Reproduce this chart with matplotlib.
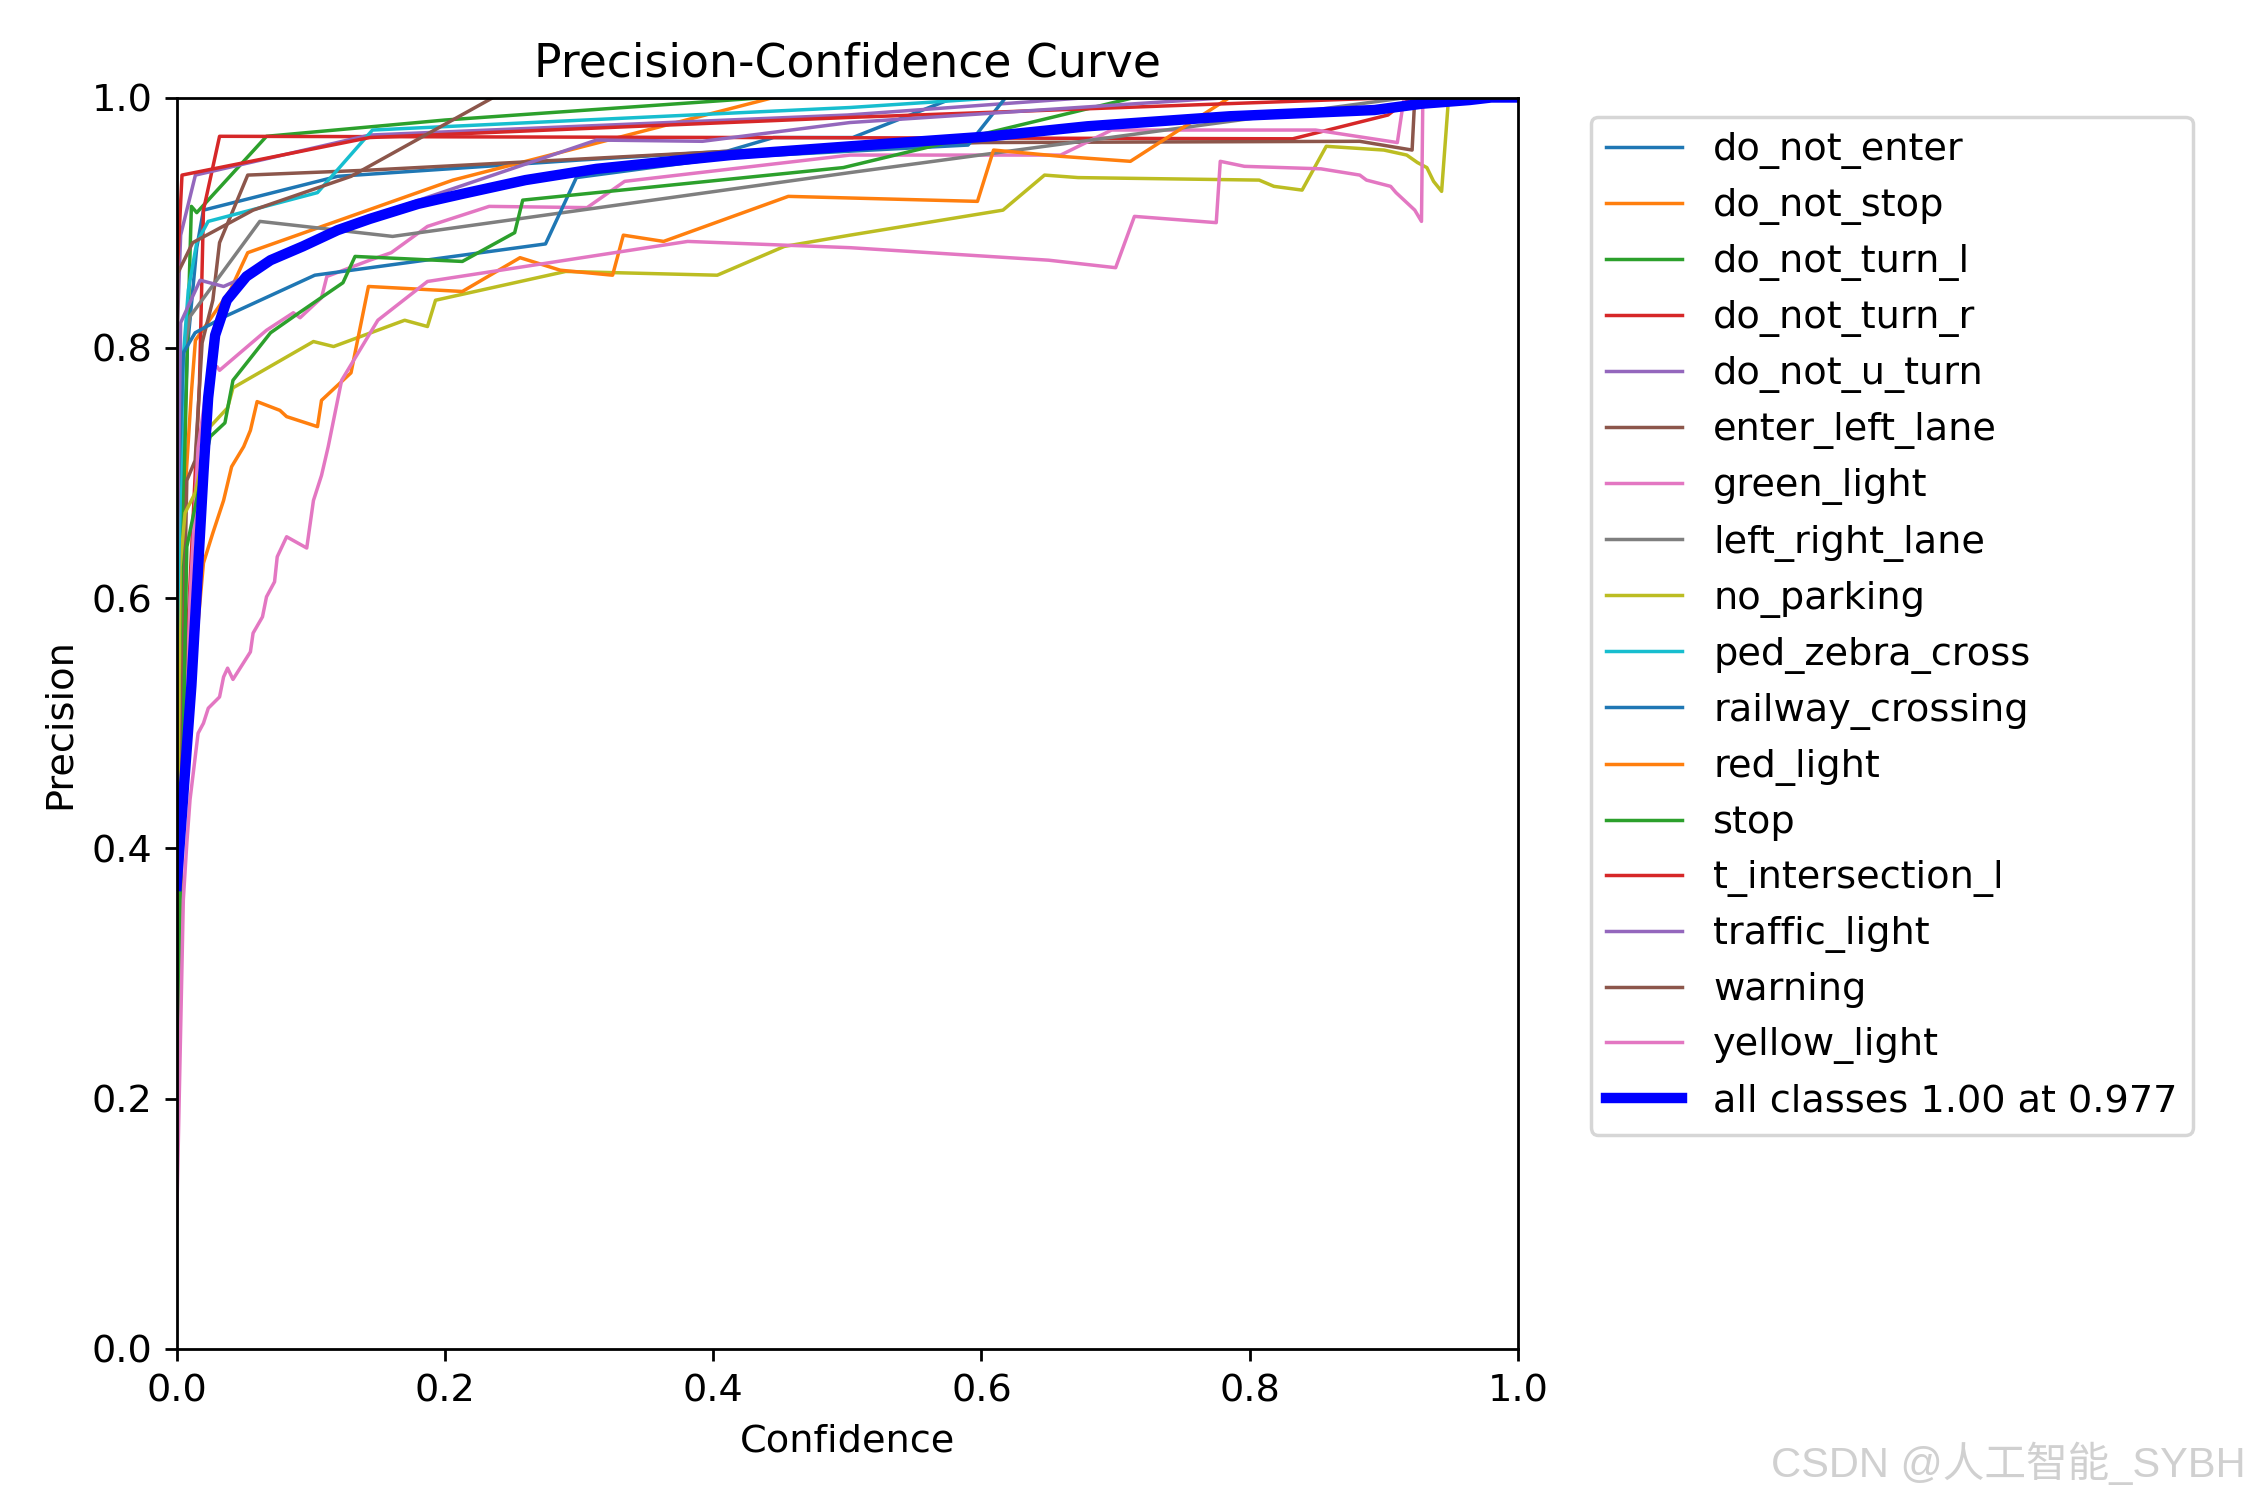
import matplotlib
matplotlib.use("Agg")
import matplotlib.pyplot as plt

# Confidence (x) / precision (y) breakpoints per class
do_not_enter_x = [0, 0.008, 0.015, 0.02, 0.12, 0.3, 0.41, 0.445, 0.504, 0.58, 1.0]
do_not_enter_y = [0.55, 0.80, 0.88, 0.91, 0.937, 0.95, 0.957, 0.968, 0.968, 1.0, 1.0]

do_not_stop_x = [0, 0.006, 0.011, 0.014, 0.04, 0.053, 0.206, 0.445, 1.0]
do_not_stop_y = [0.3, 0.68, 0.764, 0.806, 0.846, 0.876, 0.934, 1.0, 1.0]

do_not_turn_l_x = [0, 0.008, 0.011, 0.015, 0.067, 0.2, 0.44, 1.0]
do_not_turn_l_y = [0.45, 0.80, 0.913, 0.908, 0.969, 0.982, 1.0, 1.0]

do_not_turn_r_x = [0, 0.005, 0.017, 0.02, 0.032, 0.832, 0.903, 0.92, 1.0]
do_not_turn_r_y = [0.3, 0.5, 0.77, 0.91, 0.969, 0.967, 0.986, 1.0, 1.0]

do_not_u_turn_x = [0, 0.003, 0.014, 0.144, 0.5, 0.68, 1.0]
do_not_u_turn_y = [0.8, 0.89, 0.938, 0.97, 0.986, 1.0, 1.0]

enter_left_lane_x = [0, 0.0076, 0.0138, 0.019, 0.027, 0.032, 0.053, 0.144, 0.41, 0.6, 0.882, 0.921, 0.923, 1.0]
enter_left_lane_y = [0.3, 0.694, 0.71, 0.804, 0.838, 0.884, 0.938, 0.942, 0.957, 0.964, 0.965, 0.958, 1.0, 1.0]

green_light_x = [0, 0.01, 0.016, 0.024, 0.03, 0.032, 0.067, 0.087, 0.092, 0.108, 0.112, 0.144,
                 0.16, 0.187, 0.233, 0.306, 0.334, 0.502, 0.659, 0.697, 0.849, 0.91, 0.915, 1.0]
green_light_y = [0.25, 0.6, 0.72, 0.78, 0.785, 0.782, 0.814, 0.828, 0.824, 0.840, 0.857, 0.870,
                 0.876, 0.897, 0.913, 0.912, 0.933, 0.954, 0.954, 0.974, 0.974, 0.964, 1.0, 1.0]

left_right_lane_x = [0, 0.003, 0.01, 0.062, 0.161, 0.502, 0.917, 1.0]
left_right_lane_y = [0.5, 0.78, 0.825, 0.901, 0.889, 0.94, 1.0, 1.0]

no_parking_x = [0, 0.0026, 0.0063, 0.0138, 0.025, 0.038, 0.042, 0.102, 0.117, 0.170, 0.187, 0.193,
                0.290, 0.403, 0.453, 0.502, 0.616, 0.647, 0.672, 0.807, 0.818, 0.839, 0.857, 0.900,
                0.917, 0.925, 0.932, 0.937, 0.943, 0.948, 1.0]
no_parking_y = [0.3, 0.625, 0.668, 0.684, 0.737, 0.752, 0.768, 0.805, 0.801, 0.822, 0.817, 0.838,
                0.861, 0.858, 0.881, 0.890, 0.910, 0.938, 0.936, 0.934, 0.929, 0.926, 0.961, 0.958,
                0.954, 0.948, 0.944, 0.933, 0.925, 0.997, 1.0]

ped_zebra_cross_x = [0, 0.005, 0.0087, 0.015, 0.0235, 0.105, 0.146, 0.502, 0.615, 1.0]
ped_zebra_cross_y = [0.55, 0.793, 0.846, 0.884, 0.901, 0.924, 0.974, 0.992, 1.0, 1.0]

railway_crossing_x = [0, 0.005, 0.0138, 0.036, 0.103, 0.275, 0.298, 0.41, 0.59, 0.618, 1.0]
railway_crossing_y = [0.65, 0.796, 0.812, 0.825, 0.858, 0.883, 0.936, 0.952, 0.962, 1.0, 1.0]

red_light_x = [0, 0.005, 0.02, 0.027, 0.035, 0.041, 0.050, 0.055, 0.060, 0.077, 0.082, 0.105, 0.108,
               0.130, 0.143, 0.213, 0.256, 0.286, 0.325, 0.333, 0.363, 0.456, 0.597, 0.609, 0.659,
               0.711, 0.785, 1.0]
red_light_y = [0.25, 0.45, 0.628, 0.652, 0.678, 0.705, 0.721, 0.734, 0.757, 0.750, 0.745, 0.737, 0.758,
               0.780, 0.849, 0.845, 0.872, 0.862, 0.858, 0.890, 0.885, 0.921, 0.917, 0.958, 0.953,
               0.949, 1.0, 1.0]

stop_x = [0, 0.0076, 0.0138, 0.025, 0.036, 0.042, 0.07, 0.09, 0.124, 0.133, 0.213, 0.252, 0.258,
          0.497, 0.714, 1.0]
stop_y = [0.2, 0.641, 0.673, 0.729, 0.74, 0.774, 0.812, 0.827, 0.852, 0.873, 0.869, 0.892, 0.918,
          0.944, 1.0, 1.0]

t_intersection_l_x = [0, 0.004, 0.144, 0.5, 0.91, 1.0]
t_intersection_l_y = [0.85, 0.938, 0.968, 0.984, 1.0, 1.0]

traffic_light_x = [0, 0.003, 0.0175, 0.035, 0.052, 0.094, 0.123, 0.313, 0.392, 0.502, 0.785, 1.0]
traffic_light_y = [0.6, 0.82, 0.854, 0.849, 0.857, 0.881, 0.897, 0.966, 0.965, 0.98, 1.0, 1.0]

warning_x = [0, 0.001, 0.012, 0.057, 0.13, 0.236, 1.0]
warning_y = [0.75, 0.86, 0.884, 0.91, 0.937, 1.0, 1.0]

yellow_light_x = [0, 0.005, 0.0076, 0.010, 0.016, 0.020, 0.0236, 0.032, 0.035, 0.038, 0.042, 0.055,
                  0.057, 0.064, 0.067, 0.073, 0.075, 0.082, 0.097, 0.102, 0.108, 0.113, 0.123, 0.150,
                  0.187, 0.381, 0.502, 0.650, 0.700, 0.714, 0.775, 0.778, 0.796, 0.853, 0.882, 0.887,
                  0.905, 0.909, 0.923, 0.928, 0.929, 1.0]
yellow_light_y = [0.1, 0.359, 0.404, 0.439, 0.492, 0.500, 0.512, 0.521, 0.537, 0.544, 0.535, 0.557,
                  0.572, 0.585, 0.601, 0.613, 0.633, 0.649, 0.640, 0.678, 0.698, 0.721, 0.774, 0.822,
                  0.853, 0.885, 0.880, 0.870, 0.864, 0.905, 0.900, 0.949, 0.945, 0.943, 0.938, 0.934,
                  0.929, 0.924, 0.910, 0.901, 1.0, 1.0]

all_x = [0, 0.011, 0.02, 0.0235, 0.0287, 0.0374, 0.052, 0.07, 0.094, 0.12, 0.144, 0.18, 0.213,
         0.26, 0.313, 0.413, 0.502, 0.607, 0.679, 0.785, 0.893, 0.928, 0.964, 0.98, 1.0]
all_y = [0.37, 0.53, 0.70, 0.76, 0.81, 0.838, 0.857, 0.870, 0.881, 0.894, 0.903, 0.915, 0.923,
         0.934, 0.943, 0.954, 0.961, 0.969, 0.977, 0.985, 0.990, 0.995, 0.998, 1.0, 1.0]
best_p, best_conf = 1.00, 0.977

names = ["do_not_enter", "do_not_stop", "do_not_turn_l", "do_not_turn_r", "do_not_u_turn",
         "enter_left_lane", "green_light", "left_right_lane", "no_parking", "ped_zebra_cross",
         "railway_crossing", "red_light", "stop", "t_intersection_l", "traffic_light", "warning",
         "yellow_light"]
curves = [
    (do_not_enter_x, do_not_enter_y), (do_not_stop_x, do_not_stop_y),
    (do_not_turn_l_x, do_not_turn_l_y), (do_not_turn_r_x, do_not_turn_r_y),
    (do_not_u_turn_x, do_not_u_turn_y), (enter_left_lane_x, enter_left_lane_y),
    (green_light_x, green_light_y), (left_right_lane_x, left_right_lane_y),
    (no_parking_x, no_parking_y), (ped_zebra_cross_x, ped_zebra_cross_y),
    (railway_crossing_x, railway_crossing_y), (red_light_x, red_light_y),
    (stop_x, stop_y), (t_intersection_l_x, t_intersection_l_y),
    (traffic_light_x, traffic_light_y), (warning_x, warning_y),
    (yellow_light_x, yellow_light_y),
]

plt.rcParams["font.size"] = 11

fig, ax = plt.subplots(1, 1, figsize=(9, 6), dpi=250)
fig.subplots_adjust(left=0.0785, right=0.6747, top=0.935, bottom=0.1007)

for name, (xs, ys) in zip(names, curves):
    ax.plot(xs, ys, linewidth=1, label=name)
ax.plot(all_x, all_y, linewidth=3, color="blue", label=f"all classes {best_p:.2f} at {best_conf:.3f}")

ax.set_xlabel("Confidence")
ax.set_ylabel("Precision")
ax.set_xlim(0, 1)
ax.set_ylim(0, 1)
ax.legend(bbox_to_anchor=(1.04, 1), loc="upper left")
ax.set_title("Precision-Confidence Curve")

# watermark
fig.text(0.998, 0.024, "CSDN @人工智能_SYBH", ha="right", va="center", fontsize=12,
         color="#d0d0d0", family=["Liberation Sans", "Noto Sans CJK SC"])

fig.savefig("out.png", dpi=250)
